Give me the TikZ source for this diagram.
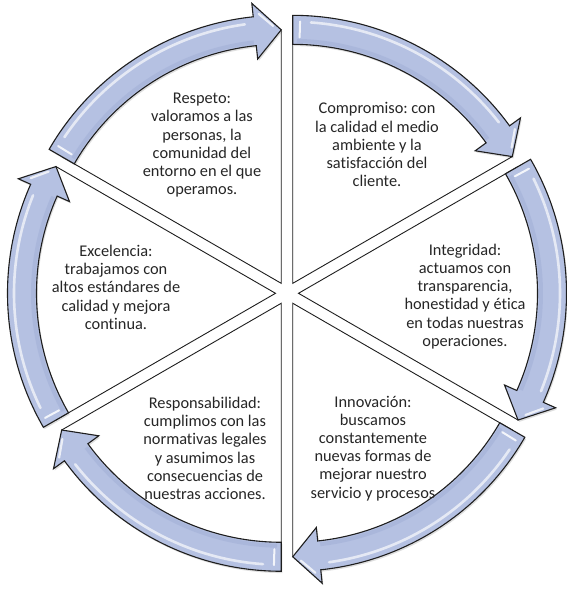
\documentclass[tikz,border=0pt]{standalone}
\usepackage{fontspec}
\setmainfont{Carlito}[Ligatures=NoCommon]
\frenchspacing
\definecolor{arrowfill}{RGB}{181,193,226}
\definecolor{arrowdark}{RGB}{160,174,214}
\definecolor{edgeline}{RGB}{30,30,30}
\definecolor{textgray}{RGB}{38,38,38}
\tikzset{
  wedgeshape/.style={draw=edgeline, line width=0.9bp, fill=white},
  bandshape/.style={draw=edgeline, line width=1.1bp, fill=arrowfill, line join=miter},
  bandshadow/.style={fill=black, opacity=0.13},
  gloss/.style={draw=white, line cap=round},
  valuetext/.style={align=center, text=textgray, inner sep=0pt,
    font=\fontsize{16.4}{18.3}\selectfont},
}
\begin{document}
\begin{tikzpicture}[x=1bp,y=1bp]
\useasboundingbox (-287,-298.7) rectangle (280,293.3);
\def\rIn{239}\def\rOut{268}\def\rMid{253.5}\def\hHalf{28}\def\hLen{6}\def\dOff{11.5}
% pie wedges, each pushed out along its bisector
\foreach \b in {120,60,0,-60,-120,180}{
  \begin{scope}[shift={(\b:\dOff)}]
    \pgfmathsetmacro\ts{\b+30}
    \pgfmathsetmacro\te{\b-30}
    \draw[wedgeshape] (0,0) -- (\ts:\rMid) arc[start angle=\ts, end angle=\te, radius=\rMid] -- cycle;
  \end{scope}
}
% clockwise arrows on the rim of each wedge
\foreach \b in {120,60,0,-60,-120,180}{
  \begin{scope}[shift={(\b:\dOff)}]
    \pgfmathsetmacro\ts{\b+30}
    \pgfmathsetmacro\te{\b-30}
    \pgfmathsetmacro\tb{\b-30+\hLen}
    \pgfmathsetmacro\rHi{\rMid+\hHalf}
    \pgfmathsetmacro\rLo{\rMid-\hHalf}
    \fill[bandshadow, shift={(1.2,-1.8)}] (\ts:\rOut) arc[start angle=\ts, end angle=\tb, radius=\rOut]
      -- (\tb:\rHi) -- (\te:\rMid) -- (\tb:\rLo) -- (\tb:\rIn)
      arc[start angle=\tb, end angle=\ts, radius=\rIn] -- cycle;
    \draw[bandshape] (\ts:\rOut) arc[start angle=\ts, end angle=\tb, radius=\rOut]
      -- (\tb:\rHi) -- (\te:\rMid) -- (\tb:\rLo) -- (\tb:\rIn)
      arc[start angle=\tb, end angle=\ts, radius=\rIn] -- cycle;
    % soft darker inner side
    \pgfmathsetmacro\tsa{\ts-1}
    \pgfmathsetmacro\tba{\tb+0.5}
    \draw[arrowdark, line width=4bp, opacity=0.5] (\tsa:\rIn+3.5) arc[start angle=\tsa, end angle=\tba, radius=\rIn+3.5];
    % glossy streaks
    \pgfmathsetmacro\tsg{\ts-4}
    \pgfmathsetmacro\tbg{\tb+2}
    \draw[gloss, line width=2.6bp, opacity=0.65] (\tsg:\rMid+8) arc[start angle=\tsg, end angle=\tbg, radius=\rMid+8];
    \pgfmathsetmacro\tse{\ts-1.6}
    \draw[gloss, line width=2bp, opacity=0.85] (\tse:\rIn+7) -- (\tse:\rOut-6);
    \pgfmathsetmacro\thx{\tb-1.2}
    \pgfmathsetmacro\thy{\te+1.8}
    \draw[gloss, line width=2.2bp, opacity=0.75] (\thx:\rMid+17) -- (\thy:\rMid+4);
  \end{scope}
}
% values
\node[valuetext] (respeto) at (-85,148) {Respeto:\\valoramos a las\\personas, la\\comunidad del\\entorno en el que\\operamos.};
\node[valuetext] (compromiso) at (90,148.5) {Compromiso: con\\la calidad el medio\\ambiente y la\\satisfacción del\\cliente.};
\node[valuetext] (integridad) at (178,-3) {Integridad:\\actuamos con\\transparencia,\\honestidad y ética\\en todas nuestras\\operaciones.};
\node[valuetext] (innovacion) at (86,-155) {Innovación:\\buscamos\\constantemente\\nuevas formas de\\mejorar nuestro\\servicio y procesos};
\node[valuetext] (responsabilidad) at (-82,-155) {Responsabilidad:\\cumplimos con las\\normativas legales\\y asumimos las\\consecuencias de\\nuestras acciones.};
\node[valuetext] (excelencia) at (-171,6) {Excelencia:\\trabajamos con\\altos estándares de\\calidad y mejora\\continua.};
\end{tikzpicture}
\end{document}
